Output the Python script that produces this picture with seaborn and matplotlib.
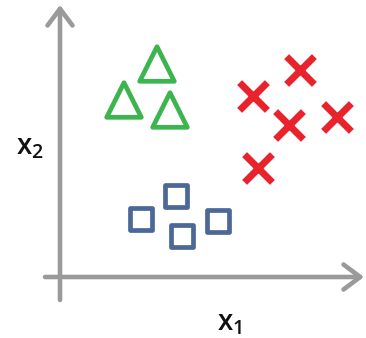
import matplotlib
matplotlib.use("Agg")
from matplotlib import pyplot as plt
import seaborn as sns
import pandas as pd

# data (origin at the axes crossing)
tri_x1 = [9.7, 6.4, 11.0]
tri_x2 = [21.3, 17.7, 16.7]
cross_x1 = [24.0, 19.3, 22.9, 27.7, 19.8]
cross_x2 = [20.7, 18.1, 15.2, 16.0, 10.9]
sq_x1 = [11.6, 8.1, 15.8, 12.2]
sq_x2 = [8.1, 5.8, 5.6, 4.1]

green = "#3cb54f"
red = "#e8232b"
blue = "#4b6898"
gray = "#9a9a9a"

sns.set_style("white")
plt.rcParams['font.family'] = ['Open Sans', 'DejaVu Sans']

fig = plt.figure(figsize=(3.66, 3.38), dpi=100)
ax = fig.add_axes([0, 0, 1, 1])

tri = pd.DataFrame({"x1": tri_x1, "x2": tri_x2})
cross = pd.DataFrame({"x1": cross_x1, "x2": cross_x2})
sq = pd.DataFrame({"x1": sq_x1, "x2": sq_x2})

sns.scatterplot(data=tri, x="x1", y="x2", marker="^", s=620, facecolors="none",
                edgecolor=green, linewidth=3.4, ax=ax)
sns.scatterplot(data=cross, x="x1", y="x2", marker="x", s=400, color=red,
                linewidth=5.0, ax=ax)
sns.scatterplot(data=sq, x="x1", y="x2", marker="s", s=270, facecolors="none",
                edgecolor=blue, linewidth=3.4, ax=ax)

# axis arrows
arrow = dict(arrowstyle="->,head_length=0.6,head_width=0.45", color=gray, lw=3.3,
             shrinkA=0, shrinkB=0, mutation_scale=20)
ax.annotate("", xy=(30.4, 0), xytext=(-1.5, 0), arrowprops=arrow)
ax.annotate("", xy=(0, 27.2), xytext=(0, -2.3), arrowprops=arrow)

ax.text(-3.0, 13.0, r"$\mathregular{x_2}$", fontsize=20, fontweight="semibold",
        ha="center", va="center", color="#111111")
ax.text(17.0, -4.6, r"$\mathregular{x_1}$", fontsize=20, fontweight="semibold",
        ha="center", va="center", color="#111111")

ax.set_xlim(-6.0, 30.6)
ax.set_ylim(-6.1, 27.7)
ax.axis("off")

fig.savefig("out.png", dpi=100)
